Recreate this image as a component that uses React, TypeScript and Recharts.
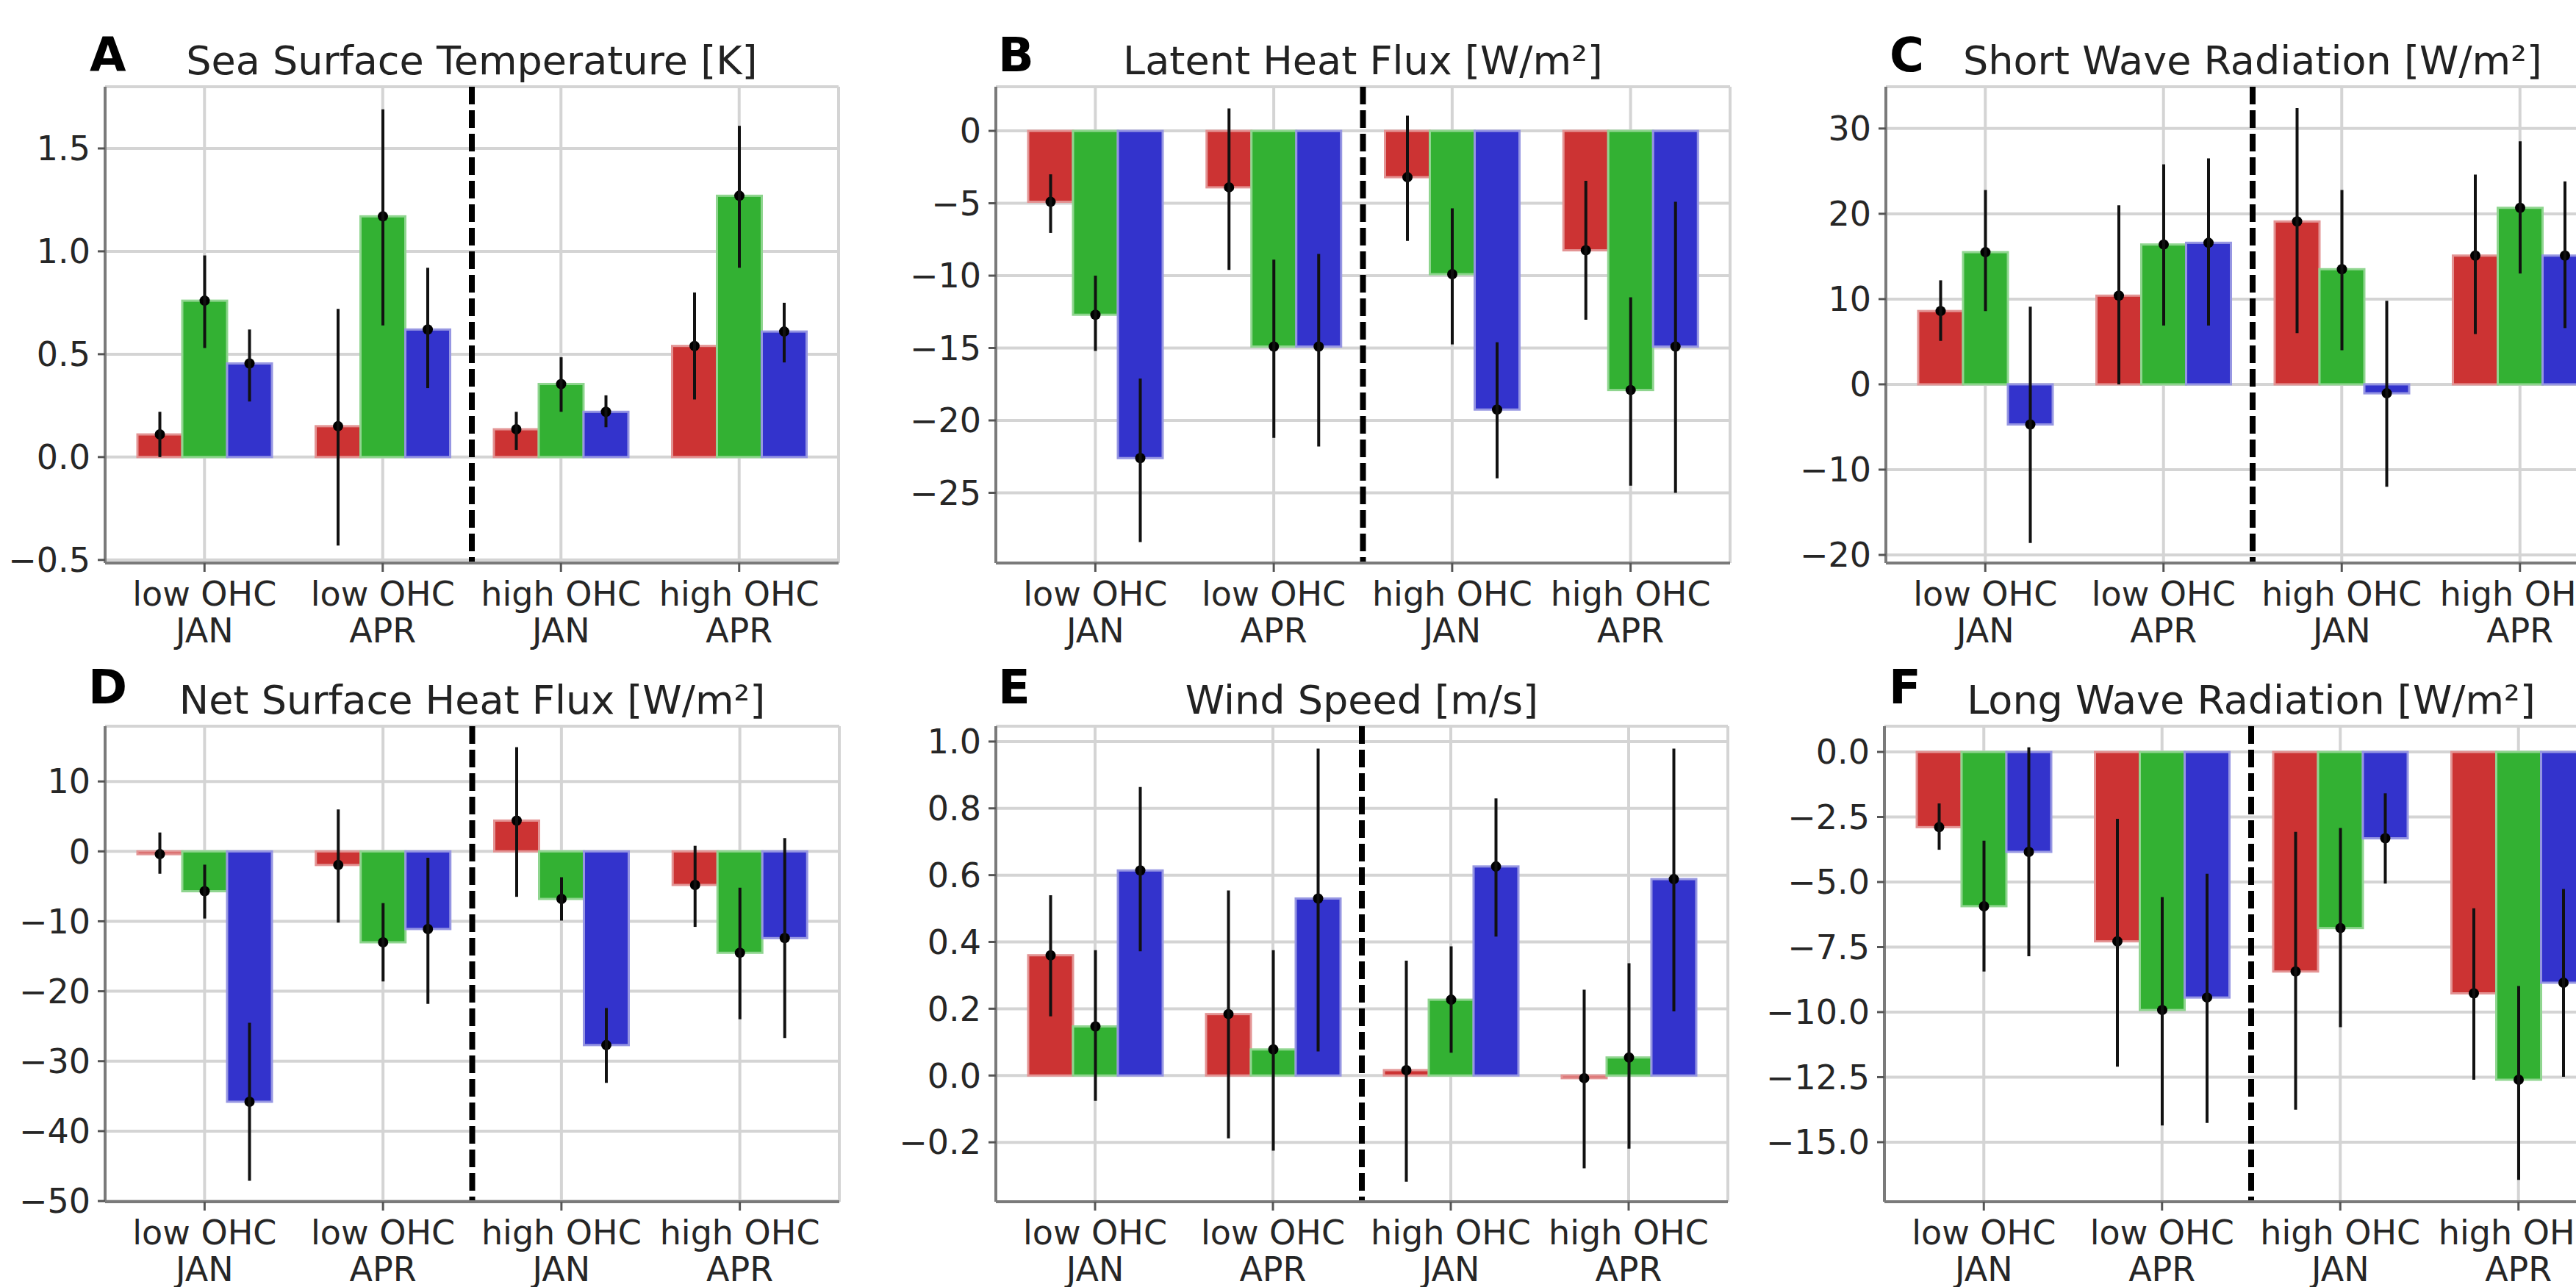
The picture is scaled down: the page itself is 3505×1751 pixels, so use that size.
import React from "react";
import {
	Bar,
	BarChart,
	CartesianGrid,
	ErrorBar,
	ReferenceLine,
	XAxis,
	YAxis,
} from "recharts";

const groupLabels = ["low OHC", "low OHC", "high OHC", "high OHC"];
const monthLabels = ["JAN", "APR", "JAN", "APR"];

// A - sea surface temperature [K]
const sstRed = [0.11, 0.15, 0.135, 0.54];
const sstRedErr = [[0.0, 0.22], [-0.43, 0.72], [0.035, 0.22], [0.28, 0.8]];
const sstGreen = [0.76, 1.17, 0.355, 1.27];
const sstGreenErr = [[0.53, 0.98], [0.64, 1.69], [0.22, 0.485], [0.92, 1.61]];
const sstBlue = [0.455, 0.62, 0.22, 0.61];
const sstBlueErr = [[0.27, 0.62], [0.335, 0.92], [0.145, 0.3], [0.46, 0.75]];

// B - latent heat flux
const lhRed = [-4.9, -3.9, -3.2, -8.25];
const lhRedErr = [[-7.05, -3.0], [-9.6, 1.55], [-7.6, 1.05], [-13.05, -3.45]];
const lhGreen = [-12.7, -14.9, -9.9, -17.9];
const lhGreenErr = [[-15.2, -10.0], [-21.2, -8.9], [-14.75, -5.35], [-24.5, -11.5]];
const lhBlue = [-22.6, -14.9, -19.25, -14.9];
const lhBlueErr = [[-28.4, -17.1], [-21.8, -8.5], [-24.0, -14.6], [-25.0, -4.9]];

// C - short wave radiation
const swRed = [8.6, 10.4, 19.1, 15.1];
const swRedErr = [[5.1, 12.2], [0.0, 21.0], [6.0, 32.4], [5.9, 24.6]];
const swGreen = [15.5, 16.4, 13.5, 20.7];
const swGreenErr = [[8.6, 22.8], [6.9, 25.8], [4.0, 22.8], [13.0, 28.5]];
const swBlue = [-4.7, 16.6, -1.05, 15.1];
const swBlueErr = [[-18.6, 9.1], [6.9, 26.5], [-12.0, 9.8], [6.6, 23.8]];

// D - net surface heat flux
const netRed = [-0.4, -1.95, 4.4, -4.8];
const netRedErr = [[-3.2, 2.7], [-10.2, 6.0], [-6.5, 14.9], [-10.8, 0.8]];
const netGreen = [-5.7, -13.0, -6.8, -14.5];
const netGreenErr = [[-9.6, -1.9], [-18.6, -7.4], [-9.9, -3.7], [-24.0, -5.2]];
const netBlue = [-35.8, -11.1, -27.7, -12.4];
const netBlueErr = [[-47.1, -24.5], [-21.8, -0.9], [-33.1, -22.4], [-26.7, 1.9]];

// E - wind speed
const wsRed = [0.36, 0.184, 0.016, -0.008];
const wsRedErr = [[0.177, 0.54], [-0.188, 0.554], [-0.318, 0.344], [-0.278, 0.257]];
const wsGreen = [0.147, 0.078, 0.227, 0.054];
const wsGreenErr = [[-0.076, 0.375], [-0.225, 0.375], [0.068, 0.387], [-0.219, 0.336]];
const wsBlue = [0.614, 0.53, 0.626, 0.588];
const wsBlueErr = [[0.372, 0.864], [0.072, 0.979], [0.416, 0.83], [0.192, 0.979]];

// F - long wave radiation
const lwRed = [-2.89, -7.28, -8.44, -9.28];
const lwRedErr = [[-3.76, -1.98], [-12.1, -2.57], [-13.75, -3.07], [-12.6, -6.01]];
const lwGreen = [-5.93, -9.92, -6.77, -12.6];
const lwGreenErr = [[-8.44, -3.41], [-14.36, -5.58], [-10.58, -2.92], [-16.45, -9.0]];
const lwBlue = [-3.84, -9.44, -3.32, -8.87];
const lwBlueErr = [[-7.85, 0.18], [-14.26, -4.68], [-5.06, -1.59], [-12.49, -5.27]];

const sstTicks = [-0.5, 0, 0.5, 1.0, 1.5];
const lhTicks = [-25, -20, -15, -10, -5, 0];
const swTicks = [-20, -10, 0, 10, 20, 30];
const netTicks = [-50, -40, -30, -20, -10, 0, 10];
const wsTicks = [-0.2, 0, 0.2, 0.4, 0.6, 0.8, 1.0];
const lwTicks = [-15, -12.5, -10, -7.5, -5, -2.5, 0];

const FONT = "DejaVu Sans";
const FRAME = { stroke: "#7a7a7a", strokeWidth: 4 };
const SERIES = [
	{ key: "red", fill: "#cc3333", edge: "#e39494" },
	{ key: "green", fill: "#33b133", edge: "#8fd58f" },
	{ key: "blue", fill: "#3333cc", edge: "#9696e2" },
];

type Panel = {
	letter: string;
	title: string;
	left: number;
	top: number;
	width: number;
	height: number;
	titleY: number;
	letterX: number;
	letterY: number;
	domain: [number, number];
	ticks: number[];
	decimals: number;
	red: number[];
	redErr: number[][];
	green: number[];
	greenErr: number[][];
	blue: number[];
	blueErr: number[][];
};

const panels: Panel[] = [
	{
		letter: "A", title: "Sea Surface Temperature [K]",
		left: 143, top: 118, width: 998, height: 648, titleY: 101, letterX: 122, letterY: 97,
		domain: [-0.515, 1.8], ticks: sstTicks, decimals: 1,
		red: sstRed, redErr: sstRedErr, green: sstGreen, greenErr: sstGreenErr, blue: sstBlue, blueErr: sstBlueErr,
	},
	{
		letter: "B", title: "Latent Heat Flux [W/m²]",
		left: 1355, top: 118, width: 999, height: 648, titleY: 101, letterX: 1358, letterY: 97,
		domain: [-29.85, 3.05], ticks: lhTicks, decimals: 0,
		red: lhRed, redErr: lhRedErr, green: lhGreen, greenErr: lhGreenErr, blue: lhBlue, blueErr: lhBlueErr,
	},
	{
		letter: "C", title: "Short Wave Radiation [W/m²]",
		left: 2566, top: 118, width: 998, height: 648, titleY: 101, letterX: 2571, letterY: 97,
		domain: [-20.95, 34.9], ticks: swTicks, decimals: 0,
		red: swRed, redErr: swRedErr, green: swGreen, greenErr: swGreenErr, blue: swBlue, blueErr: swBlueErr,
	},
	{
		letter: "D", title: "Net Surface Heat Flux [W/m²]",
		left: 143, top: 988, width: 999, height: 647, titleY: 971, letterX: 120, letterY: 957,
		domain: [-50.1, 17.9], ticks: netTicks, decimals: 0,
		red: netRed, redErr: netRedErr, green: netGreen, greenErr: netGreenErr, blue: netBlue, blueErr: netBlueErr,
	},
	{
		letter: "E", title: "Wind Speed [m/s]",
		left: 1355, top: 988, width: 996, height: 647, titleY: 971, letterX: 1358, letterY: 957,
		domain: [-0.378, 1.046], ticks: wsTicks, decimals: 1,
		red: wsRed, redErr: wsRedErr, green: wsGreen, greenErr: wsGreenErr, blue: wsBlue, blueErr: wsBlueErr,
	},
	{
		letter: "F", title: "Long Wave Radiation [W/m²]",
		left: 2564, top: 988, width: 998, height: 647, titleY: 971, letterX: 2570, letterY: 957,
		domain: [-17.29, 0.99], ticks: lwTicks, decimals: 1,
		red: lwRed, redErr: lwRedErr, green: lwGreen, greenErr: lwGreenErr, blue: lwBlue, blueErr: lwBlueErr,
	},
];

const Y_W = 200;
const M_TOP = 20;
const M_RIGHT = 20;
const X_H = 130;
const PAD = 14;

const fmt = (v: number, d: number) => v.toFixed(d).replace("-", "\u2212");

function buildRows(p: Panel) {
	return groupLabels.map((g, i) => ({
		cat: `${g} ${monthLabels[i]}`,
		red: p.red[i],
		redErr: [p.red[i] - p.redErr[i][0], p.redErr[i][1] - p.red[i]],
		green: p.green[i],
		greenErr: [p.green[i] - p.greenErr[i][0], p.greenErr[i][1] - p.green[i]],
		blue: p.blue[i],
		blueErr: [p.blue[i] - p.blueErr[i][0], p.blueErr[i][1] - p.blue[i]],
	}));
}

const barShape = (key: string, fill: string, edge: string) => (props: any) => {
	const { x, y, width, height, payload } = props;
	const top = Math.min(y, y + height);
	const h = Math.abs(height);
	const v = payload[key];
	const ey = v >= 0 ? top : top + h;
	return (
		<g>
			<rect x={x} y={top} width={width} height={h} fill={fill} stroke={edge} strokeWidth={3} />
			<circle cx={x + width / 2} cy={ey} r={7} fill="#000" />
		</g>
	);
};

const CatTick = (props: any) => {
	const { x, y, index } = props;
	return (
		<text x={x} y={y} textAnchor="middle" fontFamily={FONT} fontSize={46} fill="#262626">
			<tspan x={x} dy={44}>{groupLabels[index]}</tspan>
			<tspan x={x} dy={50}>{monthLabels[index]}</tspan>
		</text>
	);
};

function PanelChart({ p }: { p: Panel }) {
	const rows = buildRows(p);
	const band = (p.width - 2 * PAD) / 4;
	const xn: [number, number] = [-0.5 - PAD / band, 3.5 + PAD / band];
	return (
		<div style={{ position: "absolute", left: p.left - Y_W, top: p.top - M_TOP }}>
			<BarChart
				width={p.width + Y_W + M_RIGHT}
				height={p.height + M_TOP + X_H}
				data={rows}
				margin={{ top: M_TOP, right: M_RIGHT, bottom: 0, left: 0 }}
				barSize={61}
				barGap={0}
			>
				<CartesianGrid stroke="#d4d4d4" strokeWidth={4} />
				<XAxis
					dataKey="cat"
					height={X_H}
					padding={{ left: PAD, right: PAD }}
					interval={0}
					axisLine={FRAME}
					tickSize={12}
					tickMargin={2}
					tickLine={{ stroke: "#555", strokeWidth: 3 }}
					tick={<CatTick />}
				/>
				<XAxis
					xAxisId="n"
					orientation="top"
					type="number"
					domain={xn}
					allowDataOverflow
					height={0}
					tick={false}
					tickLine={false}
					axisLine={FRAME}
				/>
				<YAxis
					type="number"
					width={Y_W}
					domain={p.domain}
					allowDataOverflow
					ticks={p.ticks}
					interval={0}
					axisLine={FRAME}
					tickSize={10}
					tickMargin={10}
					tickLine={{ stroke: "#555", strokeWidth: 3 }}
					tickFormatter={(v: number) => fmt(v, p.decimals)}
					tick={{ fill: "#262626", fontSize: 46, fontFamily: FONT }}
				/>
				<YAxis
					yAxisId="r"
					orientation="right"
					type="number"
					width={0}
					domain={p.domain}
					allowDataOverflow
					tick={false}
					tickLine={false}
					axisLine={FRAME}
				/>
				{SERIES.map((s) => (
					<Bar
						key={s.key}
						dataKey={s.key}
						fill={s.fill}
						isAnimationActive={false}
						shape={barShape(s.key, s.fill, s.edge)}
					>
						<ErrorBar
							dataKey={`${s.key}Err`}
							direction="y"
							width={0}
							stroke="#111"
							strokeWidth={4}
							isAnimationActive={false}
						/>
					</Bar>
				))}
				<ReferenceLine
					xAxisId="n"
					x={1.5}
					stroke="#000"
					strokeWidth={8}
					strokeDasharray="24 8"
					ifOverflow="visible"
				/>
			</BarChart>
		</div>
	);
}

export default function App() {
	return (
		<div
			style={{
				position: "absolute",
				left: 0,
				top: 0,
				width: 3505,
				height: 1751,
				overflow: "hidden",
				background: "#fff",
			}}
		>
			{panels.map((p) => (
				<PanelChart key={p.letter} p={p} />
			))}
			<svg
				width={3505}
				height={1751}
				style={{ position: "absolute", left: 0, top: 0, pointerEvents: "none" }}
			>
				{panels.map((p) => (
					<g key={p.letter}>
						<text x={p.letterX} y={p.letterY} fontFamily={FONT} fontWeight="bold" fontSize={64} fill="#000">
							{p.letter}
						</text>
						<text
							x={p.left + p.width / 2}
							y={p.titleY}
							textAnchor="middle"
							fontFamily={FONT}
							fontSize={54}
							fill="#222"
						>
							{p.title}
						</text>
					</g>
				))}
			</svg>
		</div>
	);
}
